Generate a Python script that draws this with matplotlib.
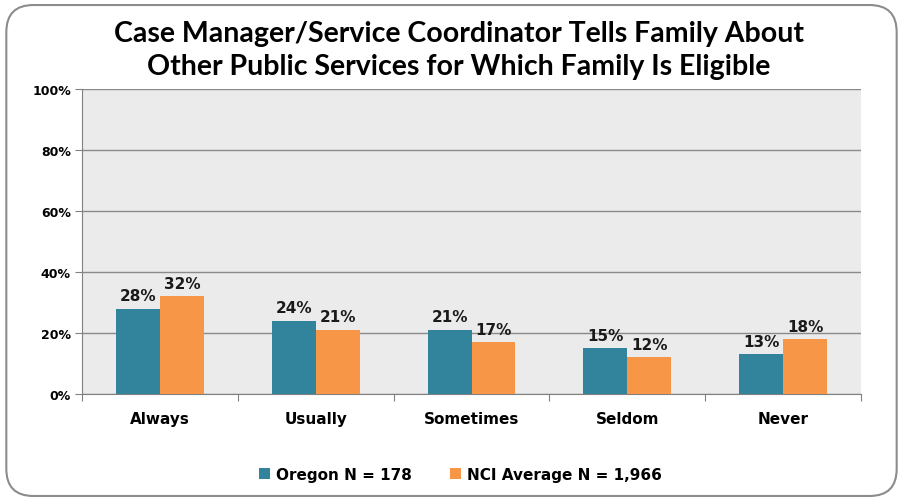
import numpy as np
import matplotlib.pyplot as plt
from matplotlib.patches import FancyBboxPatch

categories = ["Always", "Usually", "Sometimes", "Seldom", "Never"]
oregon = [28, 24, 21, 15, 13]
nci = [32, 21, 17, 12, 18]
series_names = ["Oregon N = 178", "NCI Average N = 1,966"]
teal = "#31849B"
orange = "#F79646"

fig = plt.figure(figsize=(9.03, 5.02), dpi=100)

# rounded frame around the whole chart
frame = FancyBboxPatch((0.007, 0.01), 0.986, 0.978, boxstyle="round,pad=0,rounding_size=0.03",
                       transform=fig.transFigure, facecolor="none", edgecolor="#8c8c8c", linewidth=1.5,
                       mutation_aspect=903 / 502, zorder=-1)
fig.patches.append(frame)

ax = fig.add_axes([0.0908, 0.2131, 0.8627, 0.6076])
ax.set_facecolor("#EBEBEB")

x = np.arange(len(categories))
w = 0.282
b1 = ax.bar(x - w / 2, oregon, w, color=teal, label=series_names[0], zorder=3)
b2 = ax.bar(x + w / 2, nci, w, color=orange, label=series_names[1], zorder=3)

for bars, vals in ((b1, oregon), (b2, nci)):
    for r, v in zip(bars, vals):
        ax.text(r.get_x() + r.get_width() / 2, v + 1.8, f"{v}%", ha="center", va="bottom",
                fontsize=11, fontweight="bold", color="#1a1a1a", zorder=4)

ax.set_xlim(-0.5, len(categories) - 0.5)
ax.set_ylim(0, 100)
ax.set_yticks(range(0, 101, 20))
ax.set_yticklabels([f"{t}%" for t in range(0, 101, 20)], fontsize=9, fontweight="bold")
ax.set_xticks(np.arange(-0.5, len(categories), 1), minor=False)
ax.set_xticklabels([])
ax.set_xticks(x, minor=True)
ax.set_xticklabels(categories, minor=True, fontsize=11, fontweight="bold")
ax.tick_params(axis="x", which="minor", length=0, pad=12)
ax.tick_params(axis="x", which="major", length=5, color="#808080")
ax.tick_params(axis="y", length=5, color="#808080", pad=3)
ax.grid(axis="y", color="#8a8a8a", linewidth=1, zorder=1)
for s in ["top", "right"]:
    ax.spines[s].set_visible(False)
for s in ["left", "bottom"]:
    ax.spines[s].set_color("#808080")

fig.text(0.508, 0.9, "Case Manager/Service Coordinator Tells Family About\nOther Public Services for Which Family Is Eligible",
         ha="center", va="center", fontsize=20.5, fontweight="bold", family="Lato", linespacing=1.35)

fig.legend(handles=[b1, b2], labels=series_names, loc="center", bbox_to_anchor=(0.51, 0.053), ncol=2,
           frameon=False, handlelength=0.7, handleheight=0.7, columnspacing=2.5, handletextpad=0.4,
           prop={"size": 11, "weight": "bold"})

fig.savefig("out.png", dpi=100)
